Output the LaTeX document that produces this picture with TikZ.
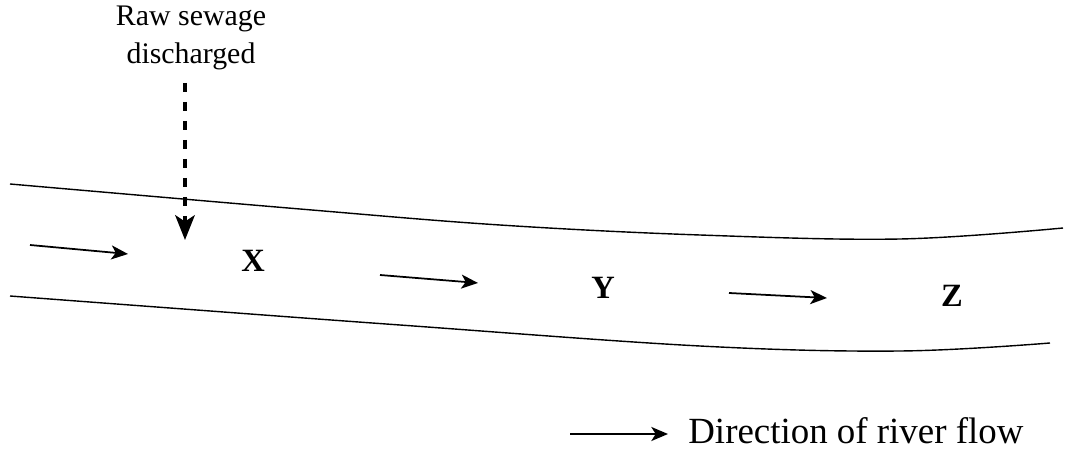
\documentclass[tikz,border=0pt]{standalone}
\usepackage{fontspec}
\setmainfont{Liberation Serif}
\usepackage{tikz}
\usetikzlibrary{
    arrows.meta,
    positioning
}

\begin{document}
\begin{tikzpicture}[
        x=0.02cm, y=-0.02cm,
        >={Stealth[length=9.5pt,width=8pt,inset=2.5pt]},
        bank/.style={line width=0.8pt},
        flow/.style={->, line width=1pt},
        sewage/.style={->, line width=2.5pt, dash pattern=on 5pt off 5.8pt,
            >={Stealth[length=14pt,width=11pt,inset=3.5pt]}},
        site/.style={font=\fontsize{18.5}{21}\selectfont\bfseries},
        every node/.style={inner sep=0pt}
    ]
    \useasboundingbox (0,0) rectangle (1065,449);

    % river banks
    \draw[bank] plot[smooth, tension=0.6] coordinates
        {(10,184) (300,209) (500,225) (700,235) (900,239) (1063,228)};
    \draw[bank] plot[smooth, tension=0.6] coordinates
        {(10,296) (170,308) (400,325) (700,346) (900,351) (1050,343)};

    % sewage outlet
    \node[align=center, font=\fontsize{17}{21.5}\selectfont] (sew) at (191,38)
        {Raw sewage\\discharged};
    \coordinate (sewtop) at (185,83);
    \coordinate (sewend) at (185,240);
    \draw[sewage] (sewtop) -- (sewend);

    % sites
    \node[site] (X) at (253,261) {X};
    \node[site] (Y) at (603,288) {Y};
    \node[site] (Z) at (952,296) {Z};

    % flow arrows
    \coordinate (a1) at (30,245);
    \coordinate (b1) at (128,254);
    \coordinate (a2) at (380,275);
    \coordinate (b2) at (478,283);
    \coordinate (a3) at (729,293);
    \coordinate (b3) at (827,298);
    \draw[flow] (a1) -- (b1);
    \draw[flow] (a2) -- (b2);
    \draw[flow] (a3) -- (b3);

    % key
    \coordinate (k1) at (570,434);
    \coordinate (k2) at (668,434);
    \draw[flow] (k1) -- (k2);
    \node[anchor=base west, font=\fontsize{21}{24}\selectfont] (key) at (688,443)
        {Direction of river flow};
\end{tikzpicture}
\end{document}
